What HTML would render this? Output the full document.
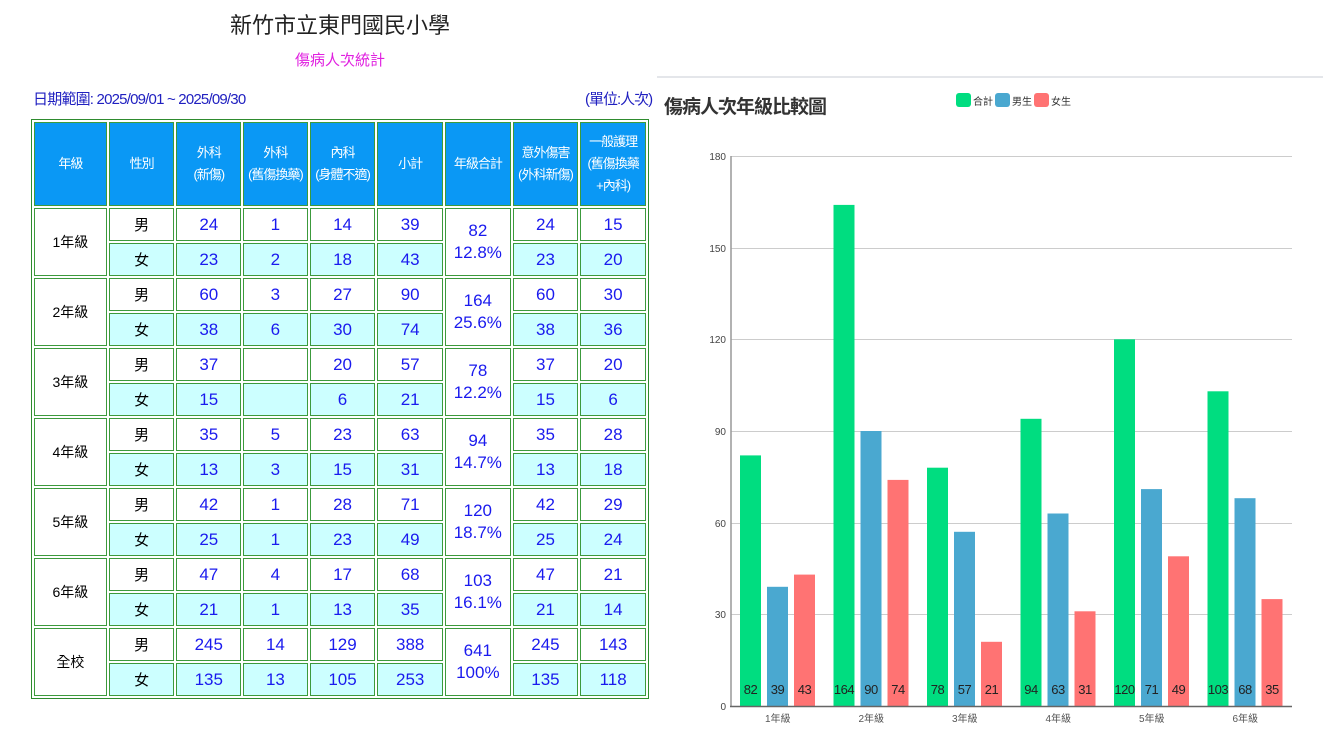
<!DOCTYPE html>
<html><head><meta charset="utf-8">
<style>
body{margin:0;width:1323px;height:754px;background:#fff;position:relative;overflow:hidden;font-family:"Liberation Sans","Noto Sans CJK TC",sans-serif;}
.abs{position:absolute;}
table{position:absolute;left:31px;top:119px;width:618px;height:578px;border:1px solid #2e8b2e;border-collapse:separate;border-spacing:2px;table-layout:fixed;}
td{border:1px solid #3c9a3c;text-align:center;padding:0;font-size:17px;color:#1a1aee;overflow:hidden;white-space:nowrap;}
tr.h td{background:#0a98f5;color:#fff;font-size:13px;letter-spacing:-1px;line-height:22px;height:82px;}
td.g{color:#000;font-size:14px;background:#fff;}
td.s{color:#000;font-size:15px;}
tr.f td{background:#ccffff;}
tr.d td{height:31px;}
td.t{background:#fff !important;line-height:22px;}
</style></head><body>
<div class="abs" style="left:0;width:680px;top:8px;text-align:center;font-size:22px;color:#222;">新竹市立東門國民小學</div>
<div class="abs" style="left:0;width:680px;top:49px;text-align:center;font-size:15px;color:#e020e0;">傷病人次統計</div>
<div class="abs" style="left:33px;top:88px;font-size:15px;color:#2020c0;letter-spacing:-0.8px;">日期範圍: 2025/09/01 ~ 2025/09/30</div>
<div class="abs" style="left:585px;top:88px;font-size:15px;color:#2020c0;letter-spacing:-1px;">(單位:人次)</div>
<table>
<colgroup><col style="width:71px"><col style="width:64px"><col style="width:63px"><col style="width:63px"><col style="width:64px"><col style="width:64px"><col style="width:64px"><col style="width:64px"><col style="width:64px"></colgroup>
<tr class="h"><td>年級</td><td>性別</td><td>外科<br>(新傷)</td><td>外科<br>(舊傷換藥)</td><td>內科<br>(身體不適)</td><td>小計</td><td>年級合計</td><td>意外傷害<br>(外科新傷)</td><td>一般護理<br>(舊傷換藥<br>+內科)</td></tr>
<tr class="d"><td class="g" rowspan="2">1年級</td><td class="s">男</td><td>24</td><td>1</td><td>14</td><td>39</td><td class="t" rowspan="2">82<br>12.8%</td><td>24</td><td>15</td></tr>
<tr class="d f"><td class="s">女</td><td>23</td><td>2</td><td>18</td><td>43</td><td>23</td><td>20</td></tr>
<tr class="d"><td class="g" rowspan="2">2年級</td><td class="s">男</td><td>60</td><td>3</td><td>27</td><td>90</td><td class="t" rowspan="2">164<br>25.6%</td><td>60</td><td>30</td></tr>
<tr class="d f"><td class="s">女</td><td>38</td><td>6</td><td>30</td><td>74</td><td>38</td><td>36</td></tr>
<tr class="d"><td class="g" rowspan="2">3年級</td><td class="s">男</td><td>37</td><td></td><td>20</td><td>57</td><td class="t" rowspan="2">78<br>12.2%</td><td>37</td><td>20</td></tr>
<tr class="d f"><td class="s">女</td><td>15</td><td></td><td>6</td><td>21</td><td>15</td><td>6</td></tr>
<tr class="d"><td class="g" rowspan="2">4年級</td><td class="s">男</td><td>35</td><td>5</td><td>23</td><td>63</td><td class="t" rowspan="2">94<br>14.7%</td><td>35</td><td>28</td></tr>
<tr class="d f"><td class="s">女</td><td>13</td><td>3</td><td>15</td><td>31</td><td>13</td><td>18</td></tr>
<tr class="d"><td class="g" rowspan="2">5年級</td><td class="s">男</td><td>42</td><td>1</td><td>28</td><td>71</td><td class="t" rowspan="2">120<br>18.7%</td><td>42</td><td>29</td></tr>
<tr class="d f"><td class="s">女</td><td>25</td><td>1</td><td>23</td><td>49</td><td>25</td><td>24</td></tr>
<tr class="d"><td class="g" rowspan="2">6年級</td><td class="s">男</td><td>47</td><td>4</td><td>17</td><td>68</td><td class="t" rowspan="2">103<br>16.1%</td><td>47</td><td>21</td></tr>
<tr class="d f"><td class="s">女</td><td>21</td><td>1</td><td>13</td><td>35</td><td>21</td><td>14</td></tr>
<tr class="d"><td class="g" rowspan="2">全校</td><td class="s">男</td><td>245</td><td>14</td><td>129</td><td>388</td><td class="t" rowspan="2">641<br>100%</td><td>245</td><td>143</td></tr>
<tr class="d f"><td class="s">女</td><td>135</td><td>13</td><td>105</td><td>253</td><td>135</td><td>118</td></tr>
</table>
<div class="abs" style="left:657px;top:76px;width:666px;height:2px;background:#e4e6ea;"></div>
<svg class="abs" style="left:0;top:0" width="1323" height="754" font-family="Liberation Sans,Noto Sans CJK TC,sans-serif">
<text x="664" y="113" font-size="19" font-weight="bold" fill="#333" letter-spacing="-1">傷病人次年級比較圖</text>
<rect x="956" y="93" width="15" height="14" rx="3" fill="#00dd80"/><text x="973" y="105" font-size="10" fill="#333">合計</text>
<rect x="995" y="93" width="15" height="14" rx="3" fill="#4aa8d0"/><text x="1012" y="105" font-size="10" fill="#333">男生</text>
<rect x="1034" y="93" width="15" height="14" rx="3" fill="#ff7373"/><text x="1051" y="105" font-size="10" fill="#333">女生</text>
<g stroke="#ccc" stroke-width="1">
<line x1="731" y1="156.5" x2="1292" y2="156.5"/><line x1="731" y1="248.5" x2="1292" y2="248.5"/><line x1="731" y1="339.5" x2="1292" y2="339.5"/><line x1="731" y1="431.5" x2="1292" y2="431.5"/><line x1="731" y1="523.5" x2="1292" y2="523.5"/><line x1="731" y1="614.5" x2="1292" y2="614.5"/>
</g>
<g font-size="10" fill="#444" text-anchor="end">
<text x="726" y="160">180</text><text x="726" y="252">150</text><text x="726" y="343">120</text><text x="726" y="435">90</text><text x="726" y="527">60</text><text x="726" y="618">30</text><text x="726" y="710">0</text>
</g>
<g>
<rect x="740" y="455.4" width="21" height="250.6" fill="#00dd80"/><rect x="767" y="586.8" width="21" height="119.2" fill="#4aa8d0"/><rect x="794" y="574.6" width="21" height="131.4" fill="#ff7373"/>
<rect x="833.5" y="204.9" width="21" height="501.1" fill="#00dd80"/><rect x="860.5" y="431" width="21" height="275" fill="#4aa8d0"/><rect x="887.5" y="479.9" width="21" height="226.1" fill="#ff7373"/>
<rect x="927" y="467.7" width="21" height="238.3" fill="#00dd80"/><rect x="954" y="531.8" width="21" height="174.2" fill="#4aa8d0"/><rect x="981" y="641.8" width="21" height="64.2" fill="#ff7373"/>
<rect x="1020.5" y="418.8" width="21" height="287.2" fill="#00dd80"/><rect x="1047.5" y="513.5" width="21" height="192.5" fill="#4aa8d0"/><rect x="1074.5" y="611.3" width="21" height="94.7" fill="#ff7373"/>
<rect x="1114" y="339.3" width="21" height="366.7" fill="#00dd80"/><rect x="1141" y="489.1" width="21" height="216.9" fill="#4aa8d0"/><rect x="1168" y="556.3" width="21" height="149.7" fill="#ff7373"/>
<rect x="1207.5" y="391.3" width="21" height="314.7" fill="#00dd80"/><rect x="1234.5" y="498.2" width="21" height="207.8" fill="#4aa8d0"/><rect x="1261.5" y="599.1" width="21" height="106.9" fill="#ff7373"/>
</g>
<g font-size="13" text-anchor="middle" fill="#222" letter-spacing="-0.5">
<text x="750.5" y="694">82</text><text x="777.5" y="694">39</text><text x="804.5" y="694">43</text>
<text x="844" y="694">164</text><text x="871" y="694">90</text><text x="898" y="694">74</text>
<text x="937.5" y="694">78</text><text x="964.5" y="694">57</text><text x="991.5" y="694">21</text>
<text x="1031" y="694">94</text><text x="1058" y="694">63</text><text x="1085" y="694">31</text>
<text x="1124.5" y="694">120</text><text x="1151.5" y="694">71</text><text x="1178.5" y="694">49</text>
<text x="1218" y="694">103</text><text x="1245" y="694">68</text><text x="1272" y="694">35</text>
</g>
<g font-size="10" text-anchor="middle" fill="#555">
<text x="777.75" y="722">1年級</text><text x="871.25" y="722">2年級</text><text x="964.75" y="722">3年級</text><text x="1058.25" y="722">4年級</text><text x="1151.75" y="722">5年級</text><text x="1245.25" y="722">6年級</text>
</g>
<line x1="731" y1="156" x2="731" y2="707" stroke="#999" stroke-width="1.5"/>
<line x1="730" y1="706.5" x2="1292" y2="706.5" stroke="#666" stroke-width="1.5"/>
</svg>
</body></html>
